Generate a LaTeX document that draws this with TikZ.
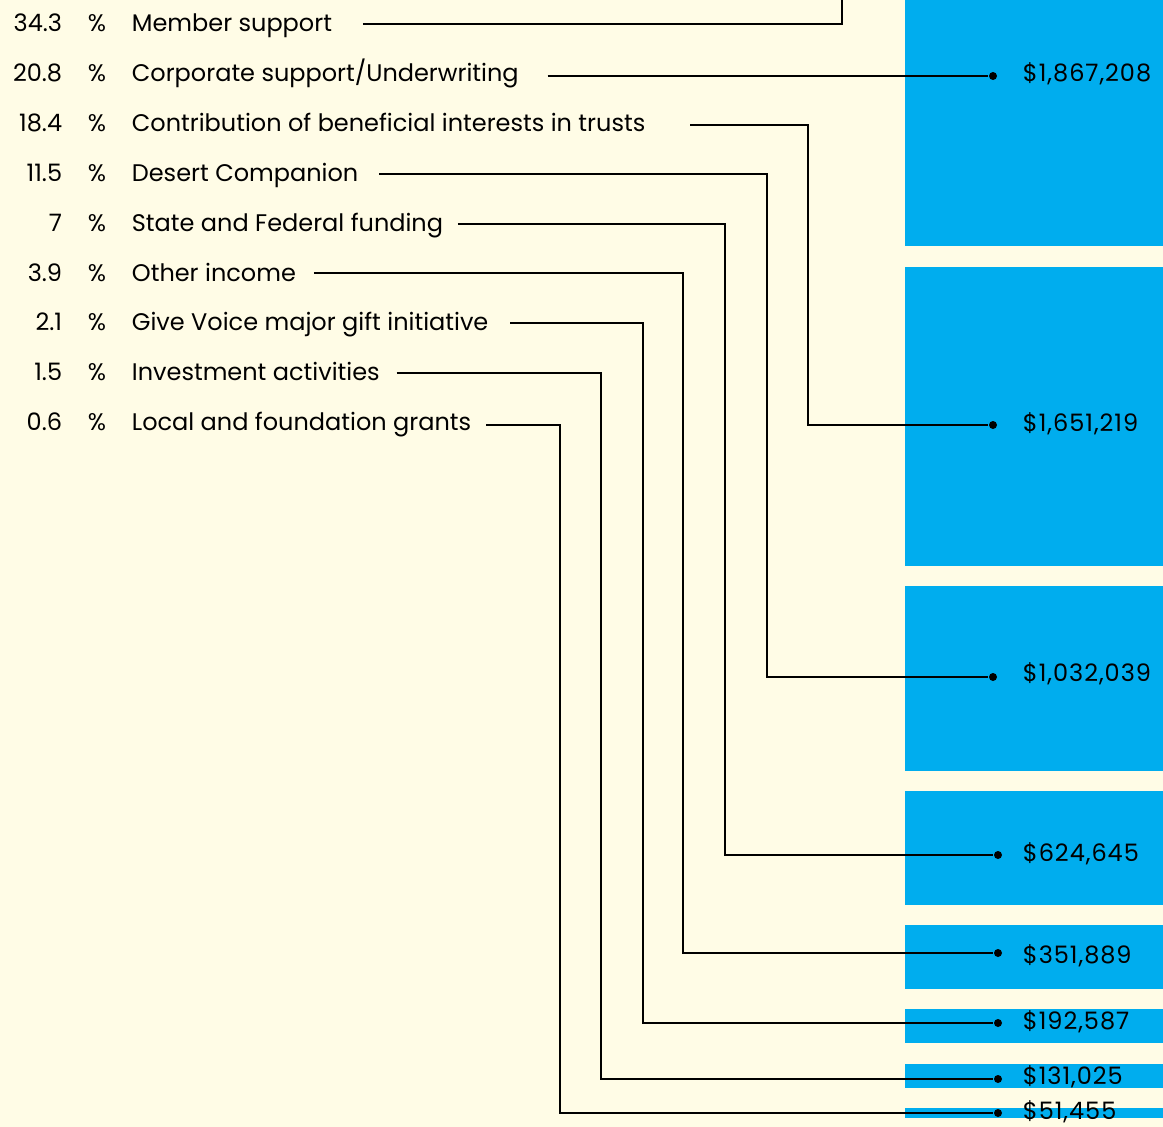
\documentclass[tikz,border=0pt]{standalone}
\usepackage{fontspec}
\setmainfont{Poppins}
\usetikzlibrary{positioning}
\definecolor{paper}{RGB}{255,252,230}
\definecolor{barblue}{RGB}{0,173,238}

\begin{document}
\begin{tikzpicture}[x=1pt,y=-1pt,line width=1.8pt,
pct/.style={anchor=east,inner sep=0pt,text height=17pt,text depth=0pt,font=\fontsize{24}{28}\selectfont},
sym/.style={inner sep=0pt,text height=17pt,text depth=0pt,font=\fontsize{24}{28}\selectfont},
lab/.style={anchor=west,inner sep=0pt,text height=17pt,text depth=0pt,font=\fontsize{24}{28}\selectfont},
amt/.style={anchor=west,inner sep=0pt,text height=17pt,text depth=0pt,font=\fontsize{24}{28}\selectfont\addfontfeatures{LetterSpace=4}},
dot/.style={circle,fill=black,inner sep=0pt,minimum size=8pt},
bar/.style={fill=barblue,draw=none}]
\useasboundingbox (0,0) rectangle (1163,1127);
\clip (0,0) rectangle (1163,1127);
\fill[paper] (0,0) rectangle (1163,1127);

% bars
\fill[bar] (905,0) rectangle (1163,246);
\fill[bar] (905,267) rectangle (1163,566);
\fill[bar] (905,586) rectangle (1163,771);
\fill[bar] (905,791) rectangle (1163,905);
\fill[bar] (905,925) rectangle (1163,989);
\fill[bar] (905,1009) rectangle (1163,1043);
\fill[bar] (905,1064) rectangle (1163,1088);
\fill[bar] (905,1108) rectangle (1163,1118);

% percentages and labels
\node[pct] (p1) at (63,23) {34.3};
\node[sym] (s1) at (97,23) {\%};
\node[lab] (l1) at (131,23) {Member support};
\node[pct] (p2) at (63,73) {20.8};
\node[sym] (s2) at (97,73) {\%};
\node[lab] (l2) at (131,73) {Corporate support/Underwriting};
\node[pct] (p3) at (63,123) {18.4};
\node[sym] (s3) at (97,123) {\%};
\node[lab] (l3) at (131,123) {Contribution of beneficial interests in trusts};
\node[pct] (p4) at (63,173) {11.5};
\node[sym] (s4) at (97,173) {\%};
\node[lab] (l4) at (131,173) {Desert Companion};
\node[pct] (p5) at (63,223) {7};
\node[sym] (s5) at (97,223) {\%};
\node[lab] (l5) at (131,223) {State and Federal funding};
\node[pct] (p6) at (63,273) {3.9};
\node[sym] (s6) at (97,273) {\%};
\node[lab] (l6) at (131,273) {Other income};
\node[pct] (p7) at (63,322) {2.1};
\node[sym] (s7) at (97,322) {\%};
\node[lab] (l7) at (131,322) {Give Voice major gift initiative};
\node[pct] (p8) at (63,372) {1.5};
\node[sym] (s8) at (97,372) {\%};
\node[lab] (l8) at (131,372) {Investment activities};
\node[pct] (p9) at (63,422) {0.6};
\node[sym] (s9) at (97,422) {\%};
\node[lab] (l9) at (131,422) {Local and foundation grants};

% dots and amounts
\coordinate (d1) at (842,-2);
\node[dot] (d2) at (993,76) {};
\node[amt] (a2) at (1022,73) {\$1,867,208};
\node[dot] (d3) at (993,425) {};
\node[amt] (a3) at (1022,423) {\$1,651,219};
\node[dot] (d4) at (993,677) {};
\node[amt] (a4) at (1022,673) {\$1,032,039};
\node[dot] (d5) at (998,855) {};
\node[amt] (a5) at (1022,853) {\$624,645};
\node[dot] (d6) at (998,953) {};
\node[amt] (a6) at (1022,955) {\$351,889};
\node[dot] (d7) at (998,1023) {};
\node[amt] (a7) at (1022,1021) {\$192,587};
\node[dot] (d8) at (998,1079) {};
\node[amt] (a8) at (1022,1076) {\$131,025};
\node[dot] (d9) at (998,1113) {};
\node[amt] (a9) at (1022,1111) {\$51,455};

% connectors
\draw ([xshift=30pt,yshift=-1pt]l1.east) -| (d1);
\draw ([xshift=28pt,yshift=-3pt]l2.east) -- (d2);
\draw ([xshift=44pt,yshift=-2pt]l3.east) -| (808,425) -- (d3);
\draw ([xshift=20pt,yshift=-1pt]l4.east) -| (767,677) -- (d4);
\draw ([xshift=14pt,yshift=-1pt]l5.east) -| (725,855) -- (d5);
\draw ([xshift=17pt]l6.east) -| (683,953) -- (d6);
\draw ([xshift=21pt,yshift=-1pt]l7.east) -| (643,1023) -- (d7);
\draw ([xshift=16pt,yshift=-1pt]l8.east) -| (601,1079) -- (d8);
\draw ([xshift=14pt,yshift=-3pt]l9.east) -| (560,1113) -- (d9);
\end{tikzpicture}
\end{document}
